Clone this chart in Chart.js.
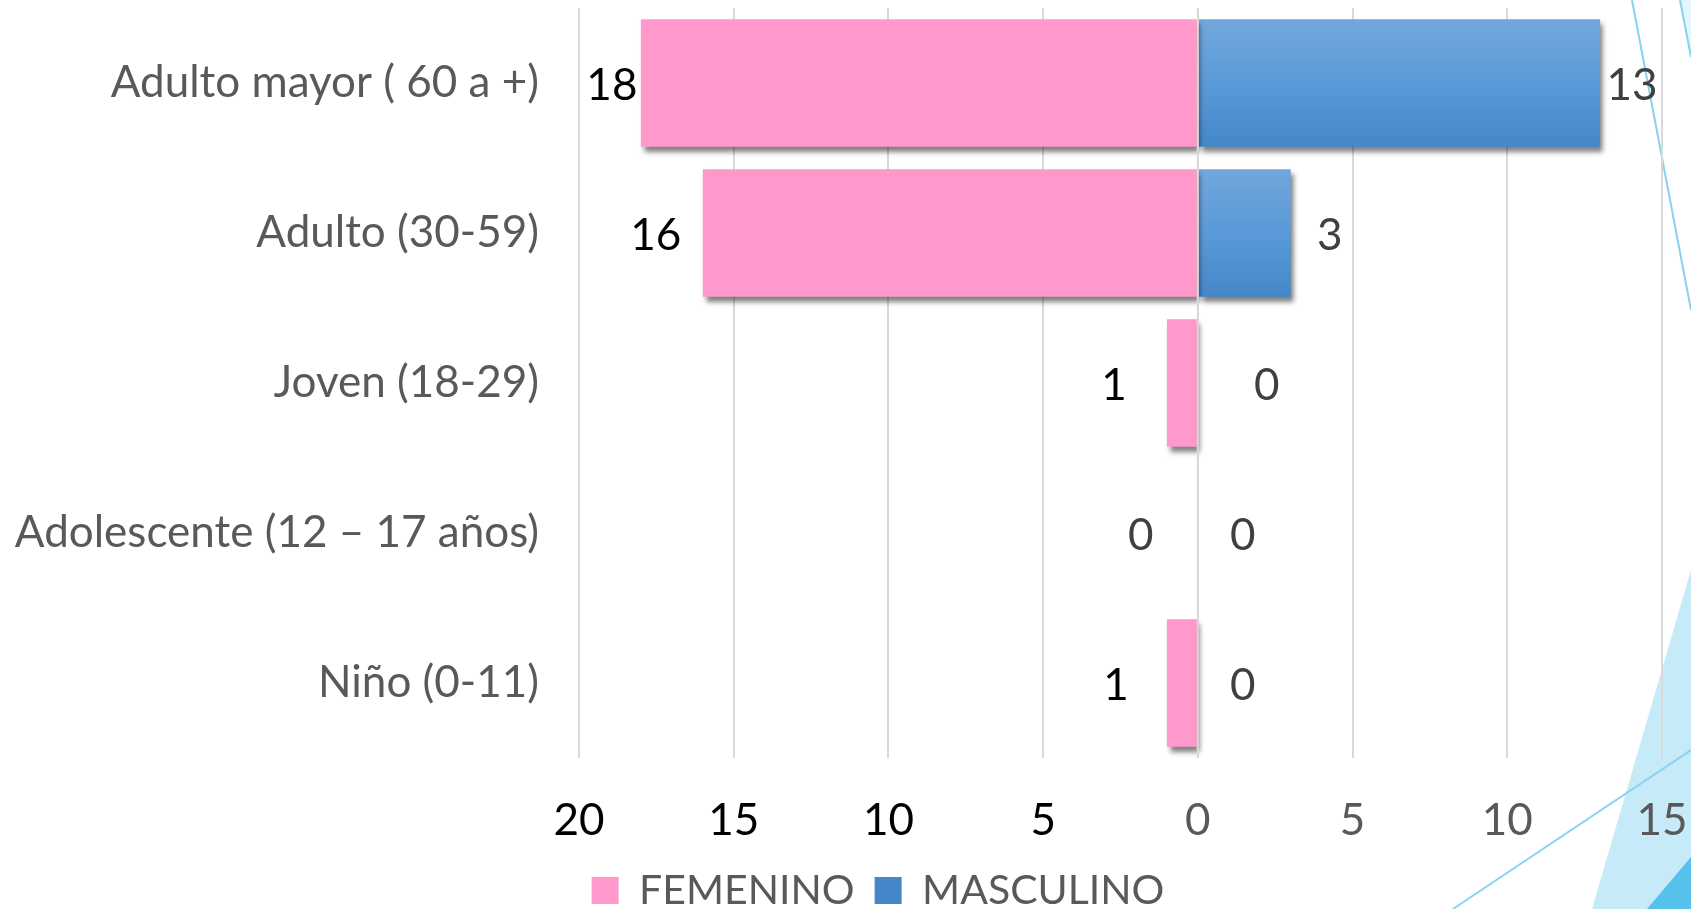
<!doctype html>
<html lang="es">

<head>
    <meta charset="utf-8">
    <title>Edad por sexo</title>
    <script src="https://cdn.jsdelivr.net/npm/chart.js@4.4.0/dist/chart.umd.min.js"></script>
    <style>
        body { margin: 0; overflow: hidden; background: #fff; }
        #wrap { width: 1691px; height: 909px; overflow: hidden; }
    </style>
</head>

<body>

    <div id="wrap"><canvas id="chart" width="1691" height="921"></canvas></div>

    <script>
        // datos
        var categorias = ['Adulto mayor ( 60 a +)', 'Adulto (30-59)', 'Joven (18-29)', 'Adolescente (12 – 17 años)', 'Niño (0-11)'];
        var femenino = [18, 16, 1, 0, 1];
        var masculino = [13, 3, 0, 0, 0];
        var ejeMin = -20;
        var ejeMax = 15;
        var paso = 5;

        var fuente = 'Lato, "Open Sans", sans-serif';
        var tam = 44;

        // azul con degradado por barra
        function azul(c) {
            if (c.type !== 'data' || !c.chart.chartArea) return '#5B9BD5';
            var ch = c.chart;
            var a = ch.chartArea;
            var y = ch.scales.y.getPixelForValue(c.dataIndex);
            var h = (a.bottom - a.top) / categorias.length * 0.85;
            var g = ch.ctx.createLinearGradient(0, y - h / 2, 0, y + h / 2);
            g.addColorStop(0, '#72A7DC');
            g.addColorStop(0.5, '#5A9AD8');
            g.addColorStop(1, '#4487C8');
            return g;
        }

        // fondo de la diapositiva (triangulos y lineas)
        var fondo = {
            id: 'fondo',
            beforeDraw: function (chart) {
                var ctx = chart.ctx;
                ctx.save();
                ctx.fillStyle = '#C6EAF7';
                ctx.beginPath();
                ctx.moveTo(1592, 909); ctx.lineTo(1691, 570); ctx.lineTo(1691, 921); ctx.lineTo(1588, 921);
                ctx.fill();
                ctx.fillStyle = '#54C2EA';
                ctx.beginPath();
                ctx.moveTo(1647, 909); ctx.lineTo(1691, 857); ctx.lineTo(1691, 921); ctx.lineTo(1637, 921);
                ctx.fill();
                ctx.fillStyle = '#E4F5FB';
                ctx.beginPath();
                ctx.moveTo(1680, 0); ctx.lineTo(1691, 0); ctx.lineTo(1691, 57);
                ctx.fill();
                ctx.strokeStyle = '#86D3EF';
                ctx.lineWidth = 2;
                ctx.beginPath();
                ctx.moveTo(1453, 909); ctx.lineTo(1691, 750);
                ctx.moveTo(1632, 0); ctx.lineTo(1691, 310);
                ctx.moveTo(1680, 0); ctx.lineTo(1691, 57);
                ctx.stroke();
                ctx.restore();
            }
        };

        // leyenda algo corrida a la derecha, como en el original
        var moverLeyenda = {
            id: 'moverLeyenda',
            afterLayout: function (chart) {
                chart.legend.left += 47;
                chart.legend.right += 47;
            }
        };

        var sombra = {
            id: 'sombra',
            beforeDatasetDraw: function (chart) {
                var ctx = chart.ctx;
                ctx.save();
                ctx.shadowColor = 'rgba(0,0,0,0.5)';
                ctx.shadowBlur = 5;
                ctx.shadowOffsetX = 3;
                ctx.shadowOffsetY = 5;
            },
            afterDatasetDraw: function (chart) {
                chart.ctx.restore();
            }
        };

        var etiquetas = {
            id: 'etiquetas',
            afterDatasetsDraw: function (chart, args, opts) {
                var ctx = chart.ctx;
                var x0 = chart.scales.x.getPixelForValue(0);
                ctx.save();
                // linea del cero por encima de las barras
                ctx.strokeStyle = '#D9D9D9';
                ctx.lineWidth = 2;
                ctx.beginPath();
                ctx.moveTo(x0, chart.chartArea.top);
                ctx.lineTo(x0, chart.chartArea.bottom);
                ctx.stroke();

                ctx.font = tam + 'px ' + fuente;
                ctx.textAlign = 'center';
                ctx.textBaseline = 'middle';
                chart.data.datasets.forEach(function (ds, i) {
                    var meta = chart.getDatasetMeta(i);
                    var dir = i === 0 ? -1 : 1;
                    meta.data.forEach(function (bar, j) {
                        ctx.fillStyle = opts.colores[i][j];
                        ctx.fillText(Math.abs(ds.data[j]), bar.x + dir * opts.separacion[i][j], bar.y + 3);
                    });
                });
                ctx.restore();
            }
        };

        new Chart(document.getElementById('chart').getContext('2d'), {
            type: 'bar',
            data: {
                labels: categorias,
                datasets: [{
                    label: 'FEMENINO',
                    data: femenino.map(function (v) { return -v; }),
                    backgroundColor: '#FF99CC',
                    borderWidth: 0,
                    grouped: false,
                    categoryPercentage: 1,
                    barPercentage: 0.85
                }, {
                    label: 'MASCULINO',
                    data: masculino,
                    backgroundColor: azul,
                    borderWidth: 0,
                    grouped: false,
                    categoryPercentage: 1,
                    barPercentage: 0.85
                }]
            },
            plugins: [fondo, moverLeyenda, sombra, etiquetas],
            options: {
                indexAxis: 'y',
                responsive: false,
                animation: false,
                devicePixelRatio: 1,
                layout: { padding: { top: 8, right: 29, left: 0, bottom: 0 } },
                scales: {
                    x: {
                        min: ejeMin,
                        max: ejeMax,
                        afterFit: function (s) { s.height = 92; s.paddingLeft = 0; s.paddingRight = 0; },
                        grid: { color: '#D9D9D9', lineWidth: 2, drawTicks: false },
                        border: { display: false },
                        ticks: {
                            stepSize: paso,
                            padding: 36,
                            font: { family: fuente, size: tam },
                            color: function (c) { return c.tick && c.tick.value < 0 ? '#000000' : '#595959'; },
                            callback: function (v) { return Math.abs(v); }
                        }
                    },
                    y: {
                        afterFit: function (s) { s.width = 579; s.paddingTop = 0; s.paddingBottom = 0; },
                        grid: { display: false, drawTicks: false },
                        border: { display: false },
                        ticks: {
                            padding: 40,
                            font: { family: fuente, size: tam },
                            color: '#595959'
                        }
                    }
                },
                plugins: {
                    tooltip: { enabled: false },
                    legend: {
                        position: 'bottom',
                        labels: {
                            boxWidth: 27,
                            boxHeight: 27,
                            padding: 20,
                            color: '#595959',
                            font: { family: fuente, size: 41 }
                        }
                    },
                    etiquetas: {
                        separacion: [[29, 47, 53, 57, 51], [32, 39, 69, 45, 45]],
                        colores: [['#000000', '#000000', '#000000', '#404040', '#000000'], ['#404040', '#404040', '#404040', '#404040', '#404040']]
                    }
                }
            }
        });
    </script>

</body>

</html>
